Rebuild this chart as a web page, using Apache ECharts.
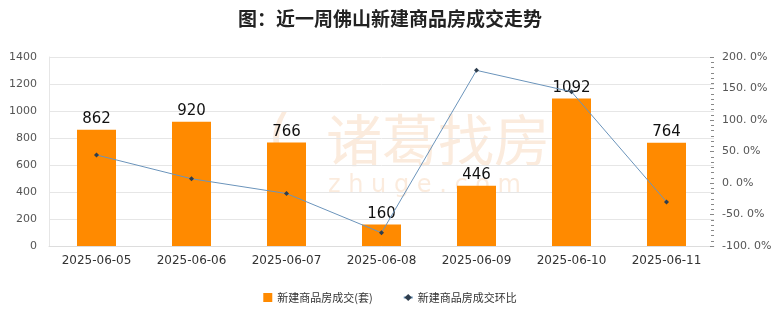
<!DOCTYPE html>
<html><head><meta charset="utf-8">
<script src="https://cdn.jsdelivr.net/npm/echarts@6/dist/echarts.min.js"></script>
<style>html,body{margin:0;padding:0;background:#fff}#c{width:780px;height:328px}</style>
</head><body><div id="c"></div>
<script>
const categories = ['2025-06-05','2025-06-06','2025-06-07','2025-06-08','2025-06-09','2025-06-10','2025-06-11'];
const deals = [862, 920, 766, 160, 446, 1092, 764];
const ratio = [44.5, 6.7, -16.7, -79.1, 178.8, 144.8, -30.0];
const leftTicks = [0, 1400, 200];
const rightTicks = [-100, 200, 50];

const chart = echarts.init(document.getElementById('c'));
chart.setOption({
  animation: false,
  title: {text: '图：近一周佛山新建商品房成交走势', left: 'center', top: 4,
    textStyle: {fontSize: 19, fontWeight: 'bold', color: '#222', fontFamily: 'Noto Sans CJK SC'}},
  graphic: [
    {type: 'text', left: 268, top: 112, style: {text: '(', fontSize: 60, fill: 'rgba(245,205,170,0.4)', fontFamily: 'DejaVu Sans'}},
    {type: 'text', left: 326, top: 112, style: {text: '诸葛找房', fontSize: 56, fill: 'rgba(245,205,170,0.4)', fontFamily: 'Noto Sans CJK SC'}},
    {type: 'text', left: 328, top: 174, style: {text: 'z h u g e . c o m', fontSize: 24, fill: 'rgba(245,205,170,0.4)', fontFamily: 'DejaVu Sans'}}
  ],
  legend: {bottom: 20, itemGap: 30, itemWidth: 9, itemHeight: 9,
    textStyle: {fontSize: 11, color: '#333', fontFamily: 'Noto Sans CJK SC'},
    data: [{name: '新建商品房成交(套)', icon: 'rect'}, {name: '新建商品房成交环比'}]},
  grid: {left: 49, right: 66, top: 57, bottom: 82},
  xAxis: {type: 'category', data: categories,
    axisLine: {lineStyle: {color: '#ddd'}}, axisTick: {show: false},
    axisLabel: {color: '#333', fontSize: 12, margin: 9, fontFamily: 'DejaVu Sans'}},
  yAxis: [
    {type: 'value', min: leftTicks[0], max: leftTicks[1], interval: leftTicks[2],
      axisLine: {show: true, lineStyle: {color: '#e6e6e6'}}, axisTick: {show: false},
      splitLine: {lineStyle: {color: '#e6e6e6'}},
      axisLabel: {color: '#555', fontSize: 11, margin: 12, fontFamily: 'DejaVu Sans', formatter: v => String(v)}},
    {type: 'value', min: rightTicks[0], max: rightTicks[1], interval: rightTicks[2],
      position: 'right',
      axisLine: {show: false}, splitLine: {show: false},
      axisTick: {show: true, inside: true, length: 4, lineStyle: {color: '#888'}},
      minorTick: {show: true, splitNumber: 6, length: 3, lineStyle: {color: '#888'}},
      axisLabel: {color: '#555', fontSize: 11, margin: 8, fontFamily: 'DejaVu Sans',
        formatter: v => v.toFixed(1).replace('.', '. ') + '%'}}
  ],
  series: [
    {name: '新建商品房成交(套)', type: 'bar', data: deals, barWidth: 39,
      itemStyle: {color: '#FF8A00'},
      label: {show: true, position: 'top', distance: 3, color: '#111', fontSize: 15, fontFamily: 'DejaVu Sans'}},
    {name: '新建商品房成交环比', type: 'line', yAxisIndex: 1, data: ratio,
      symbol: 'diamond', symbolSize: 5,
      lineStyle: {color: '#6b94bb', width: 1},
      itemStyle: {color: '#2f3e4e'}}
  ]
});
</script></body></html>
